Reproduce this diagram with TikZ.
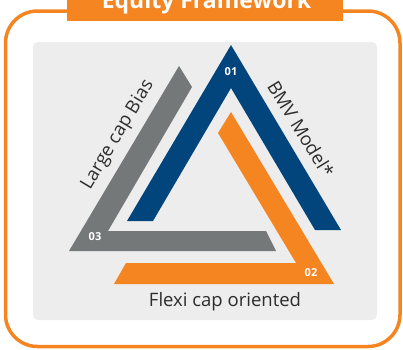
\documentclass[tikz,border=0pt]{standalone}
\usepackage{fontspec}
\setmainfont{Open Sans}
\definecolor{ejorange}{RGB}{244,133,33}
\definecolor{ejblue}{RGB}{2,69,124}
\definecolor{ejgray}{RGB}{117,120,120}
\definecolor{ejpanel}{RGB}{237,237,237}
\definecolor{ejtext}{RGB}{45,45,45}
\begin{document}
\begin{tikzpicture}[x=1pt,y=-1pt,
  numlbl/.style={text=white,font=\bfseries\fontsize{11}{12}\selectfont,inner sep=0pt},
  sidelbl/.style={text=ejtext,font=\fontsize{18.5}{20}\selectfont,inner sep=0pt}]
\useasboundingbox (0,0) rectangle (403,349);
% panel
\fill[ejpanel, rounded corners=5pt] (33,42) rectangle (377,320);
% frame
\draw[ejorange, line width=3.5pt, rounded corners=32pt] (5.5,11) rectangle (400,346.5);
% title
\fill[ejorange] (67,-6) rectangle (343,21);
\node[text=white,font=\bfseries\fontsize{23}{26}\selectfont,anchor=base,inner sep=0pt] (title) at (206.5,8.5) {Equity Framework};
% blue chevron
\fill[ejblue] (231,45) -- (341,230) -- (315,230) -- (231,88) -- (153,221) -- (127,221) -- cycle;
% gray
\fill[ejgray] (179,66) -- (192,87) -- (108,231) -- (266,231) -- (276,251) -- (69,251) -- cycle;
% orange
\fill[ejorange] (231,112) -- (334,284) -- (114,284) -- (126,263) -- (296,263) -- (218,133) -- cycle;
% numbers
\node[numlbl] (n01) at (231,72) {01};
\node[numlbl] (n02) at (311,273) {02};
\node[numlbl] (n03) at (95,237) {03};
% side labels
\node[sidelbl, rotate=59] (large) at (118,135) {Large cap Bias};
\node[sidelbl, rotate=-58.5] (bmv) at (301,129) {BMV Model*};
\node[sidelbl, anchor=base] (flexi) at (225,306) {Flexi cap oriented};
\end{tikzpicture}
\end{document}
